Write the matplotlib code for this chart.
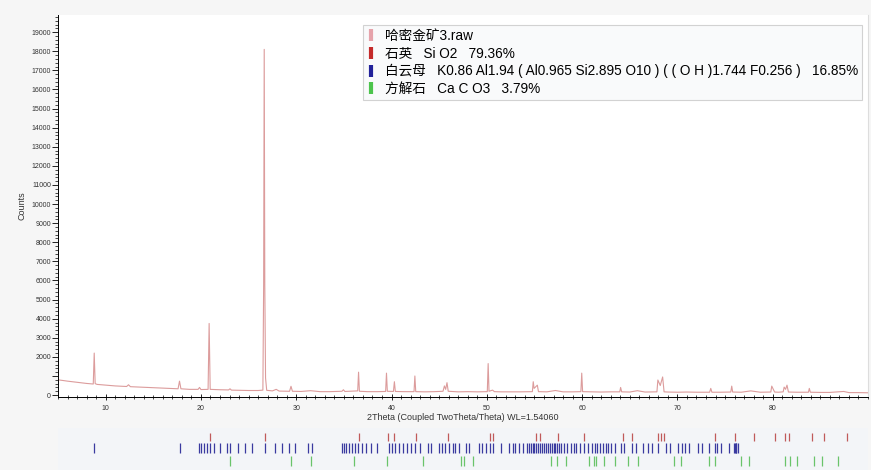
import matplotlib
matplotlib.use('Agg')
import matplotlib.pyplot as plt
from matplotlib.lines import Line2D
import numpy as np

plt.rcParams['font.family'] = ['Liberation Sans', 'Noto Sans CJK SC', 'DejaVu Sans']

two_theta = [5.0, 6.0, 7.0, 8.0, 8.7, 8.8, 8.9, 9.1, 10.0, 11.0, 12.2, 12.4, 12.6, 13.5, 15.0,
             16.5, 17.6, 17.75, 17.9, 18.8, 19.7, 19.85, 20.0, 20.75, 20.86, 20.97, 22.0, 22.9,
             23.05, 23.2, 24.0, 25.0, 26.0, 26.5, 26.58, 26.64, 26.7, 26.78, 26.9, 27.5, 27.9,
             28.2, 29.3, 29.45, 29.6, 30.5, 31.5, 32.5, 33.5, 34.8, 34.95, 35.1, 36.0, 36.45,
             36.54, 36.63, 37.5, 38.5, 39.38, 39.47, 39.56, 40.2, 40.3, 40.4, 41.3, 42.36, 42.45,
             42.54, 43.5, 44.5, 45.4, 45.55, 45.68, 45.82, 45.95, 47.0, 48.0, 49.0, 50.05, 50.14,
             50.23, 50.6, 50.8, 51.5, 52.5, 53.5, 54.78, 54.87, 54.96, 55.3, 55.42, 56.3, 57.2,
             58.0, 59.0, 59.87, 59.96, 60.05, 61.0, 62.0, 63.0, 63.95, 64.04, 64.15, 65.0, 65.8,
             66.6, 67.85, 67.95, 68.2, 68.45, 68.6, 69.0, 70.0, 71.0, 72.0, 73.38, 73.5, 73.62,
             74.5, 75.6, 75.7, 75.8, 76.7, 77.7, 78.7, 79.8, 79.9, 80.05, 80.2, 80.6, 81.1, 81.2,
             81.35, 81.5, 81.65, 82.5, 83.75, 83.84, 83.95, 85.0, 86.0, 87.45, 88.0, 89.0, 90.0]
counts = [800, 730, 670, 610, 580, 2200, 600, 560, 520, 480, 450, 540, 440, 420, 390,
          350, 330, 730, 330, 300, 300, 400, 290, 300, 3750, 300, 280, 270,
          330, 260, 250, 240, 240, 260, 5800, 18100, 5800, 900, 250, 220, 300,
          210, 200, 460, 200, 190, 230, 180, 180, 200, 280, 190, 210, 220,
          1200, 200, 180, 180, 190, 1150, 200, 190, 700, 190, 180, 180, 1000,
          180, 170, 180, 200, 480, 300, 650, 200, 170, 180, 170, 180, 1650,
          200, 260, 180, 170, 170, 170, 180, 700, 350, 520, 180, 170, 240,
          170, 170, 180, 1150, 180, 170, 160, 170, 170, 400, 170, 160, 230,
          160, 170, 790, 500, 950, 170, 160, 150, 160, 150, 150, 350, 150,
          150, 160, 470, 160, 150, 220, 150, 160, 470, 320, 160, 150, 170, 420,
          300, 520, 160, 150, 150, 350, 150, 140, 140, 190, 130, 130, 120]

# reference stick positions
quartz = [20.9, 26.7, 36.6, 39.6, 40.3, 42.6, 45.9, 50.3, 50.7, 55.2, 55.6, 57.5, 60.2,
          64.3, 65.2, 68.0, 68.3, 68.6, 73.9, 76.0, 78.0, 80.2, 81.3, 81.7, 84.1, 85.4, 87.8]
muscovite = [8.8, 17.75, 19.8, 20.0, 20.3, 20.6, 20.9, 21.4, 22.0, 22.75, 23.1, 23.85, 24.6,
             25.4, 26.7, 27.8, 28.5, 29.2, 29.9, 31.2, 31.7, 34.8, 35.0, 35.2, 35.5, 35.9,
             36.2, 36.5, 36.9, 37.3, 37.8, 38.5, 39.7, 40.0, 40.4, 40.8, 41.2, 41.6, 42.0,
             42.5, 43.0, 43.8, 44.1, 45.0, 45.3, 45.6, 46.0, 46.4, 46.7, 47.1, 47.8, 48.1,
             49.2, 49.5, 49.9, 50.3, 50.7, 51.5, 52.3, 52.7, 53.0, 53.4, 53.8, 54.2, 54.4,
             54.6, 54.8, 55.0, 55.2, 55.4, 55.6, 55.8, 56.0, 56.2, 56.4, 56.6, 56.8, 57.0,
             57.2, 57.4, 57.6, 57.8, 58.1, 58.4, 58.8, 59.1, 59.4, 59.8, 60.2, 60.6, 61.0,
             61.3, 61.6, 61.9, 62.2, 62.5, 62.7, 63.0, 63.4, 64.1, 64.4, 65.2, 65.7, 66.4,
             66.9, 67.3, 68.0, 68.8, 69.2, 70.1, 70.5, 70.8, 71.2, 72.2, 72.6, 73.3, 73.9,
             74.2, 74.6, 75.4, 75.9, 76.0, 76.1, 76.2, 76.4]
calcite = [23.1, 29.5, 31.6, 36.1, 39.5, 43.3, 47.3, 47.6, 48.5, 56.7, 57.4, 58.3, 60.7,
           61.2, 61.5, 62.3, 63.4, 64.8, 65.9, 69.6, 70.4, 73.3, 73.9, 76.7, 77.5, 81.3,
           81.8, 82.5, 84.3, 85.2, 86.9]

legend_labels = ['哈密金矿3.raw',
                 '石英   Si O2   79.36%',
                 '白云母   K0.86 Al1.94 ( Al0.965 Si2.895 O10 ) ( ( O H )1.744 F0.256 )   16.85%',
                 '方解石   Ca C O3   3.79%']
legend_colors = ['#e6a3ab', '#c42a2a', '#22229a', '#4cc44c']

fig = plt.figure(figsize=(8.71, 4.70), dpi=100, facecolor='#f6f6f6')
ax = fig.add_axes([58/871, 1-397/470, 810/871, 382/470])
ax.set_facecolor('white')
ax.plot(two_theta, counts, color='#dc9c9c', lw=0.8)
ax.set_xlim(5, 90)
ax.set_ylim(-100, 19900)

yt = np.arange(0, 20000, 1000)
ax.set_yticks(yt)
ax.set_yticklabels(['' if v == 1000 else str(v) for v in yt])
ax.set_yticks(np.arange(0, 19900, 200), minor=True)
ax.set_xticks(np.arange(10, 90, 10))
ax.set_xticks(np.arange(5, 91, 1), minor=True)
ax.tick_params(axis='y', which='major', length=4, width=0.6, labelsize=5, pad=1, labelcolor='#333333')
ax.tick_params(axis='y', which='minor', length=2, width=0.5)
ax.tick_params(axis='x', which='major', direction='inout', length=5, width=0.6, labelsize=5, pad=3,
               labelcolor='#333333')
ax.tick_params(axis='x', which='minor', direction='inout', length=3, width=0.5)
ax.spines['top'].set_visible(False)
ax.spines['right'].set_color('#dddddd')
ax.spines['left'].set_linewidth(0.7)
ax.spines['bottom'].set_linewidth(0.7)
ax.set_ylabel('Counts', fontsize=6.5, labelpad=4, color='#333333')
ax.set_xlabel('2Theta (Coupled TwoTheta/Theta) WL=1.54060', fontsize=6.5, labelpad=1, color='#333333')

handles = [Line2D([], [], color=c, marker='|', linestyle='None', markersize=9, markeredgewidth=3)
           for c in legend_colors]
leg = ax.legend(handles, legend_labels, loc='upper right', bbox_to_anchor=(0.993, 0.974),
                fontsize=9.8, frameon=True, fancybox=False, handlelength=0.5, handletextpad=0.8,
                labelspacing=0.26, borderpad=0.3, borderaxespad=0)
leg.get_frame().set_edgecolor('#c8c8c8')
leg.get_frame().set_facecolor('#f8f9fb')
leg.get_frame().set_linewidth(0.8)

# stick pattern panel
ax2 = fig.add_axes([58/871, 0, 810/871, 42/470])
ax2.set_facecolor('#f3f5f8')
ax2.vlines(quartz, 0.69, 0.88, color='#c05a5a', lw=0.9)
ax2.vlines(muscovite, 0.40, 0.64, color='#3a3aa0', lw=0.9)
ax2.vlines(calcite, 0.10, 0.33, color='#6ac46a', lw=0.9)
ax2.set_xlim(5, 90)
ax2.set_ylim(0, 1)
ax2.set_xticks([])
ax2.set_yticks([])
for s in ax2.spines.values():
    s.set_visible(False)

plt.savefig('out.png', dpi=100, facecolor=fig.get_facecolor())
